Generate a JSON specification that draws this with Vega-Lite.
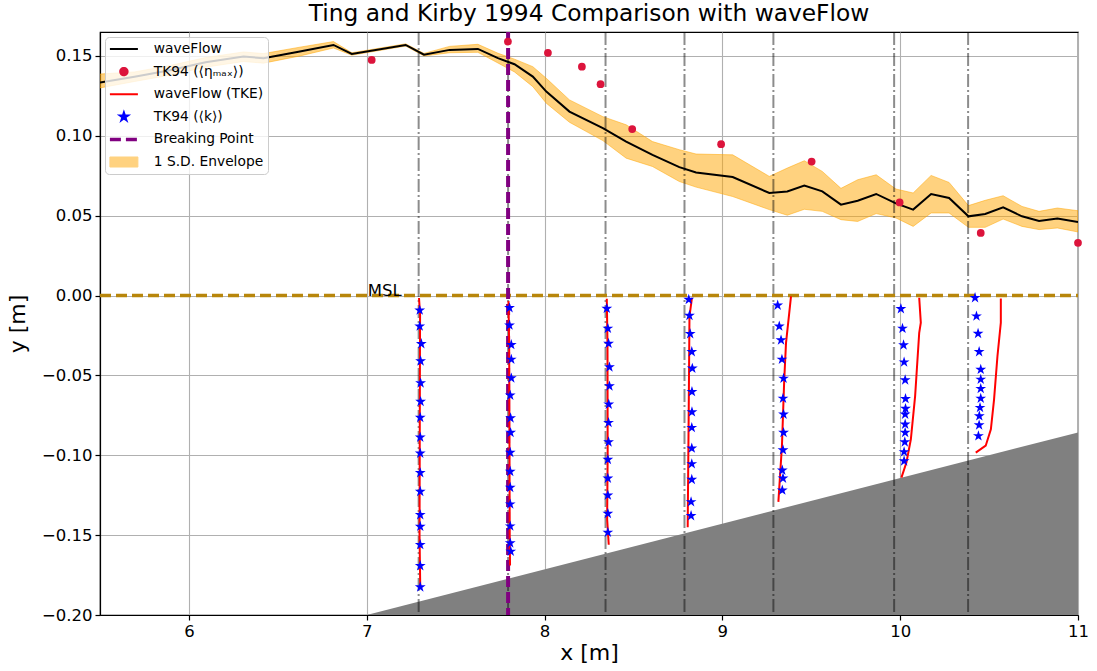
{
  "$schema": "https://vega.github.io/schema/vega-lite/v6.json",
  "autosize": "none",
  "width": 978,
  "height": 583,
  "padding": {"left": 100, "top": 32, "right": 19, "bottom": 56},
  "background": "white",
  "title": {
    "text": "Ting and Kirby 1994 Comparison with waveFlow",
    "fontSize": 23.3,
    "fontWeight": "normal",
    "font": "DejaVu Sans",
    "color": "black",
    "anchor": "middle",
    "offset": 4
  },
  "config": {
    "font": "DejaVu Sans",
    "view": {"stroke": "black", "strokeWidth": 1.2},
    "axis": {
      "domainColor": "black",
      "domainWidth": 1.2,
      "tickColor": "black",
      "tickSize": 5,
      "tickWidth": 1.2,
      "labelColor": "black",
      "labelFont": "DejaVu Sans",
      "labelFontSize": 16.5,
      "labelPadding": 3,
      "labelFlush": false,
      "labelBound": false,
      "titleFont": "DejaVu Sans",
      "titleFontSize": 22,
      "titleFontWeight": "normal",
      "titleColor": "black",
      "grid": true,
      "gridColor": "#b0b0b0",
      "gridWidth": 1.1
    }
  },
  "datasets": {
    "eta": [
      {"x": 5.5, "y": 0.1334, "lo": 0.130, "hi": 0.1387, "series": "waveFlow"},
      {"x": 5.694, "y": 0.137, "lo": 0.134, "hi": 0.140, "series": "waveFlow"},
      {"x": 5.893, "y": 0.141, "lo": 0.138, "hi": 0.144, "series": "waveFlow"},
      {"x": 6.094, "y": 0.146, "lo": 0.143, "hi": 0.149, "series": "waveFlow"},
      {"x": 6.307, "y": 0.1496, "lo": 0.1465, "hi": 0.1525, "series": "waveFlow"},
      {"x": 6.42, "y": 0.1486, "lo": 0.1455, "hi": 0.1515, "series": "waveFlow"},
      {"x": 6.624, "y": 0.1528, "lo": 0.150, "hi": 0.1555, "series": "waveFlow"},
      {"x": 6.813, "y": 0.1569, "lo": 0.155, "hi": 0.159, "series": "waveFlow"},
      {"x": 6.916, "y": 0.1513, "lo": 0.1505, "hi": 0.152, "series": "waveFlow"},
      {"x": 7.219, "y": 0.1569, "lo": 0.1562, "hi": 0.1576, "series": "waveFlow"},
      {"x": 7.322, "y": 0.1508, "lo": 0.150, "hi": 0.1516, "series": "waveFlow"},
      {"x": 7.466, "y": 0.1538, "lo": 0.152, "hi": 0.156, "series": "waveFlow"},
      {"x": 7.625, "y": 0.1544, "lo": 0.1523, "hi": 0.1573, "series": "waveFlow"},
      {"x": 7.738, "y": 0.1486, "lo": 0.1456, "hi": 0.1517, "series": "waveFlow"},
      {"x": 7.831, "y": 0.1448, "lo": 0.140, "hi": 0.148, "series": "waveFlow"},
      {"x": 7.934, "y": 0.1371, "lo": 0.1308, "hi": 0.1433, "series": "waveFlow"},
      {"x": 8.01, "y": 0.1277, "lo": 0.1204, "hi": 0.136, "series": "waveFlow"},
      {"x": 8.14, "y": 0.1152, "lo": 0.1085, "hi": 0.1225, "series": "waveFlow"},
      {"x": 8.328, "y": 0.1048, "lo": 0.097, "hi": 0.112, "series": "waveFlow"},
      {"x": 8.459, "y": 0.0964, "lo": 0.086, "hi": 0.1069, "series": "waveFlow"},
      {"x": 8.607, "y": 0.0881, "lo": 0.0808, "hi": 0.0964, "series": "waveFlow"},
      {"x": 8.758, "y": 0.0804, "lo": 0.0714, "hi": 0.0913, "series": "waveFlow"},
      {"x": 8.852, "y": 0.0771, "lo": 0.0679, "hi": 0.0886, "series": "waveFlow"},
      {"x": 9.058, "y": 0.0742, "lo": 0.062, "hi": 0.0881, "series": "waveFlow"},
      {"x": 9.264, "y": 0.0642, "lo": 0.0538, "hi": 0.0746, "series": "waveFlow"},
      {"x": 9.365, "y": 0.0652, "lo": 0.0503, "hi": 0.0798, "series": "waveFlow"},
      {"x": 9.461, "y": 0.0688, "lo": 0.054, "hi": 0.0844, "series": "waveFlow"},
      {"x": 9.562, "y": 0.0652, "lo": 0.0527, "hi": 0.0777, "series": "waveFlow"},
      {"x": 9.667, "y": 0.0569, "lo": 0.0475, "hi": 0.0671, "series": "waveFlow"},
      {"x": 9.761, "y": 0.0594, "lo": 0.0464, "hi": 0.0725, "series": "waveFlow"},
      {"x": 9.865, "y": 0.0636, "lo": 0.0513, "hi": 0.0756, "series": "waveFlow"},
      {"x": 9.976, "y": 0.0577, "lo": 0.0486, "hi": 0.0667, "series": "waveFlow"},
      {"x": 10.073, "y": 0.0538, "lo": 0.0433, "hi": 0.0642, "series": "waveFlow"},
      {"x": 10.174, "y": 0.0636, "lo": 0.0517, "hi": 0.0752, "series": "waveFlow"},
      {"x": 10.275, "y": 0.0611, "lo": 0.0517, "hi": 0.0708, "series": "waveFlow"},
      {"x": 10.384, "y": 0.0496, "lo": 0.0427, "hi": 0.0563, "series": "waveFlow"},
      {"x": 10.478, "y": 0.0511, "lo": 0.0427, "hi": 0.0596, "series": "waveFlow"},
      {"x": 10.579, "y": 0.0552, "lo": 0.0479, "hi": 0.0625, "series": "waveFlow"},
      {"x": 10.685, "y": 0.0496, "lo": 0.0433, "hi": 0.0558, "series": "waveFlow"},
      {"x": 10.781, "y": 0.0467, "lo": 0.0413, "hi": 0.0527, "series": "waveFlow"},
      {"x": 10.884, "y": 0.0483, "lo": 0.0423, "hi": 0.0548, "series": "waveFlow"},
      {"x": 11.0, "y": 0.0461, "lo": 0.0398, "hi": 0.0531, "series": "waveFlow"}
    ],
    "tk_eta": [
      {"x": 7.028, "y": 0.1475},
      {"x": 7.794, "y": 0.159},
      {"x": 8.019, "y": 0.152},
      {"x": 8.21, "y": 0.1433},
      {"x": 8.315, "y": 0.1323},
      {"x": 8.493, "y": 0.1042},
      {"x": 8.993, "y": 0.0948},
      {"x": 9.502, "y": 0.0839},
      {"x": 9.997, "y": 0.0583},
      {"x": 10.453, "y": 0.0392},
      {"x": 11.0, "y": 0.033}
    ],
    "tke": [
      {"station": "A", "x": 7.294, "y": -0.0015},
      {"station": "A", "x": 7.300, "y": -0.012},
      {"station": "A", "x": 7.299, "y": -0.05},
      {"station": "A", "x": 7.298, "y": -0.10},
      {"station": "A", "x": 7.297, "y": -0.15},
      {"station": "A", "x": 7.301, "y": -0.183},
      {"station": "B", "x": 7.797, "y": -0.0035},
      {"station": "B", "x": 7.801, "y": -0.03},
      {"station": "B", "x": 7.803, "y": -0.10},
      {"station": "B", "x": 7.804, "y": -0.15},
      {"station": "B", "x": 7.806, "y": -0.169},
      {"station": "C", "x": 8.350, "y": -0.002},
      {"station": "C", "x": 8.354, "y": -0.03},
      {"station": "C", "x": 8.355, "y": -0.10},
      {"station": "C", "x": 8.352, "y": -0.14},
      {"station": "C", "x": 8.361, "y": -0.156},
      {"station": "D", "x": 8.829, "y": -0.0015},
      {"station": "D", "x": 8.815, "y": -0.013},
      {"station": "D", "x": 8.811, "y": -0.07},
      {"station": "D", "x": 8.807, "y": -0.12},
      {"station": "D", "x": 8.805, "y": -0.145},
      {"station": "E", "x": 9.386, "y": -0.0005},
      {"station": "E", "x": 9.376, "y": -0.011},
      {"station": "E", "x": 9.358, "y": -0.0296},
      {"station": "E", "x": 9.348, "y": -0.0525},
      {"station": "E", "x": 9.335, "y": -0.0942},
      {"station": "E", "x": 9.315, "y": -0.1292},
      {"station": "F", "x": 10.107, "y": -0.0014},
      {"station": "F", "x": 10.116, "y": -0.017},
      {"station": "F", "x": 10.107, "y": -0.0233},
      {"station": "F", "x": 10.084, "y": -0.063},
      {"station": "F", "x": 10.060, "y": -0.09},
      {"station": "F", "x": 10.035, "y": -0.1046},
      {"station": "F", "x": 10.007, "y": -0.114},
      {"station": "G", "x": 10.566, "y": -0.0019},
      {"station": "G", "x": 10.566, "y": -0.017},
      {"station": "G", "x": 10.547, "y": -0.038},
      {"station": "G", "x": 10.528, "y": -0.065},
      {"station": "G", "x": 10.510, "y": -0.0838},
      {"station": "G", "x": 10.481, "y": -0.094},
      {"station": "G", "x": 10.425, "y": -0.0983}
    ],
    "tk_k": [
      {"x": 7.298, "y": -0.0092}, {"x": 7.298, "y": -0.0192}, {"x": 7.307, "y": -0.0302},
      {"x": 7.303, "y": -0.041}, {"x": 7.303, "y": -0.0548}, {"x": 7.303, "y": -0.0664},
      {"x": 7.301, "y": -0.0764}, {"x": 7.301, "y": -0.0888}, {"x": 7.301, "y": -0.0988},
      {"x": 7.301, "y": -0.111}, {"x": 7.301, "y": -0.1227}, {"x": 7.301, "y": -0.1373},
      {"x": 7.301, "y": -0.1446}, {"x": 7.301, "y": -0.156}, {"x": 7.301, "y": -0.1692},
      {"x": 7.301, "y": -0.1825},
      {"x": 7.803, "y": -0.0077}, {"x": 7.803, "y": -0.0186}, {"x": 7.813, "y": -0.0308},
      {"x": 7.813, "y": -0.04}, {"x": 7.813, "y": -0.0517}, {"x": 7.807, "y": -0.0625},
      {"x": 7.809, "y": -0.0767}, {"x": 7.809, "y": -0.0858}, {"x": 7.807, "y": -0.0983},
      {"x": 7.807, "y": -0.1102}, {"x": 7.807, "y": -0.1202}, {"x": 7.807, "y": -0.1306},
      {"x": 7.807, "y": -0.1444}, {"x": 7.807, "y": -0.155}, {"x": 7.810, "y": -0.1602},
      {"x": 8.350, "y": -0.0081}, {"x": 8.356, "y": -0.0206}, {"x": 8.360, "y": -0.03},
      {"x": 8.365, "y": -0.0448}, {"x": 8.365, "y": -0.0567}, {"x": 8.361, "y": -0.0681},
      {"x": 8.360, "y": -0.0796}, {"x": 8.360, "y": -0.0917}, {"x": 8.356, "y": -0.1027},
      {"x": 8.356, "y": -0.1144}, {"x": 8.356, "y": -0.125}, {"x": 8.356, "y": -0.1365},
      {"x": 8.356, "y": -0.1483},
      {"x": 8.811, "y": -0.0025}, {"x": 8.815, "y": -0.0125}, {"x": 8.819, "y": -0.024},
      {"x": 8.828, "y": -0.0352}, {"x": 8.831, "y": -0.0456}, {"x": 8.829, "y": -0.0602},
      {"x": 8.829, "y": -0.0729}, {"x": 8.828, "y": -0.0827}, {"x": 8.828, "y": -0.0956},
      {"x": 8.828, "y": -0.1054}, {"x": 8.828, "y": -0.1152}, {"x": 8.824, "y": -0.1292},
      {"x": 8.824, "y": -0.1379},
      {"x": 9.311, "y": -0.0061}, {"x": 9.320, "y": -0.0192}, {"x": 9.330, "y": -0.0279},
      {"x": 9.335, "y": -0.04}, {"x": 9.344, "y": -0.0519}, {"x": 9.341, "y": -0.0644},
      {"x": 9.344, "y": -0.0744}, {"x": 9.344, "y": -0.0858}, {"x": 9.341, "y": -0.0967},
      {"x": 9.337, "y": -0.1094}, {"x": 9.341, "y": -0.1144}, {"x": 9.337, "y": -0.1219},
      {"x": 10.004, "y": -0.0083}, {"x": 10.013, "y": -0.0206}, {"x": 10.019, "y": -0.031},
      {"x": 10.022, "y": -0.0417}, {"x": 10.028, "y": -0.0529}, {"x": 10.030, "y": -0.0646},
      {"x": 10.030, "y": -0.0708}, {"x": 10.028, "y": -0.0744}, {"x": 10.028, "y": -0.0806},
      {"x": 10.028, "y": -0.0858}, {"x": 10.026, "y": -0.0917}, {"x": 10.022, "y": -0.0979},
      {"x": 10.022, "y": -0.1036},
      {"x": 10.421, "y": -0.0014}, {"x": 10.429, "y": -0.0129}, {"x": 10.438, "y": -0.0238},
      {"x": 10.444, "y": -0.0352}, {"x": 10.453, "y": -0.0463}, {"x": 10.453, "y": -0.0525},
      {"x": 10.453, "y": -0.0583}, {"x": 10.453, "y": -0.0644}, {"x": 10.449, "y": -0.0702},
      {"x": 10.445, "y": -0.0754}, {"x": 10.444, "y": -0.0811}, {"x": 10.440, "y": -0.0879}
    ],
    "stations": [
      {"x": 7.292}, {"x": 7.795}, {"x": 8.343}, {"x": 8.787},
      {"x": 9.287}, {"x": 9.966}, {"x": 10.382}
    ],
    "breaking": [{"x": 7.795}],
    "bed": [
      {"x": 7.0, "y": -0.2},
      {"x": 11.0, "y": -0.0857}
    ],
    "msl": [{"x": 5.5, "x2": 11.0, "y": 0.0}],
    "msl_label": [{"x": 7.0, "y": 0.0, "label": "MSL"}]
  },
  "encoding": {
    "x": {
      "field": "x",
      "type": "quantitative",
      "title": "x [m]",
      "scale": {"domain": [5.5, 11], "nice": false, "zero": false},
      "axis": {"values": [6, 7, 8, 9, 10, 11], "format": "d", "titlePadding": 3}
    }
  },
  "layer": [
    {
      "data": {"name": "bed"},
      "mark": {"type": "area", "color": "#808080", "opacity": 1, "clip": true},
      "encoding": {
        "y": {
          "field": "y",
          "type": "quantitative",
          "title": "y [m]",
          "scale": {"domain": [-0.2, 0.165], "nice": false, "zero": false},
          "axis": {
            "values": [-0.2, -0.15, -0.1, -0.05, 0, 0.05, 0.1, 0.15],
            "format": ".2f",
            "titlePadding": 12
          }
        },
        "y2": {"datum": -0.2}
      }
    },
    {
      "data": {"name": "eta"},
      "mark": {"type": "area", "fill": "#FFA500", "fillOpacity": 0.5, "stroke": "#FFA500", "strokeOpacity": 0.5, "strokeWidth": 1, "clip": true},
      "encoding": {
        "y": {"field": "lo", "type": "quantitative", "title": "y [m]", "scale": {"domain": [-0.2, 0.165], "nice": false, "zero": false}},
        "y2": {"field": "hi"}
      }
    },
    {
      "data": {"name": "stations"},
      "mark": {"type": "rule", "color": "black", "opacity": 0.45, "strokeWidth": 2, "strokeDash": [13, 3, 2, 3]}
    },
    {
      "data": {"name": "msl"},
      "mark": {"type": "rule", "color": "#B8860B", "strokeWidth": 3.5, "strokeDash": [11, 5]},
      "encoding": {
        "x2": {"field": "x2"},
        "y": {"field": "y", "type": "quantitative", "title": "y [m]", "scale": {"domain": [-0.2, 0.165], "nice": false, "zero": false}}
      }
    },
    {
      "data": {"name": "breaking"},
      "mark": {"type": "rule", "color": "#800080", "strokeWidth": 4, "strokeDash": [11, 5]}
    },
    {
      "data": {"name": "eta"},
      "mark": {"type": "line", "strokeWidth": 2, "clip": true},
      "encoding": {
        "y": {"field": "y", "type": "quantitative", "title": "y [m]", "scale": {"domain": [-0.2, 0.165], "nice": false, "zero": false}},
        "color": {
          "field": "series",
          "type": "nominal",
          "scale": {
            "domain": ["waveFlow", "TK94 (⟨ηₘₐₓ⟩)", "waveFlow (TKE)", "TK94 (⟨k⟩)", "Breaking Point", "1 S.D. Envelope"],
            "range": ["#000000", "#DC143C", "#FF0000", "#0000FF", "#800080", "#FFD280"]
          },
          "legend": {
            "title": null,
            "orient": "top-left",
            "offset": 5,
            "padding": 4,
            "clipHeight": 16,
            "rowPadding": 6.6,
            "symbolSize": 784,
            "symbolOffset": 8,
            "labelOffset": 23,
            "labelFont": "DejaVu Sans",
            "labelFontSize": 13.8,
            "labelColor": "black",
            "labelLimit": 300,
            "fillColor": "rgba(255,255,255,0.8)",
            "strokeColor": "#cccccc",
            "cornerRadius": 4,
            "encode": {
              "symbols": {
                "update": {
                  "shape": {"signal": "datum.value === 'TK94 (⟨k⟩)' ? 'M0,-1L0.2245,-0.309L0.9511,-0.309L0.3633,0.118L0.5878,0.809L0,0.382L-0.5878,0.809L-0.3633,0.118L-0.9511,-0.309L-0.2245,-0.309Z' : datum.value === 'TK94 (⟨ηₘₐₓ⟩)' ? 'circle' : datum.value === '1 S.D. Envelope' ? 'M-1,-0.36L1,-0.36L1,0.36L-1,0.36Z' : 'stroke'"},
                  "size": {"signal": "datum.value === 'TK94 (⟨k⟩)' ? 75 : datum.value === 'TK94 (⟨ηₘₐₓ⟩)' ? 55 : 784"},
                  "fill": {"signal": "(datum.value === 'TK94 (⟨k⟩)' || datum.value === 'TK94 (⟨ηₘₐₓ⟩)' || datum.value === '1 S.D. Envelope') ? scale('color', datum.value) : 'transparent'"},
                  "stroke": {"signal": "(datum.value === 'TK94 (⟨k⟩)' || datum.value === 'TK94 (⟨ηₘₐₓ⟩)') ? 'transparent' : datum.value === '1 S.D. Envelope' ? '#FFC04D' : scale('color', datum.value)"},
                  "strokeWidth": {"signal": "datum.value === 'Breaking Point' ? 3.5 : datum.value === '1 S.D. Envelope' ? 1 : 2"},
                  "strokeDash": {"signal": "datum.value === 'Breaking Point' ? [11, 5] : [1, 0]"},
                  "opacity": {"value": 1}
                }
              }
            }
          }
        }
      }
    },
    {
      "data": {"name": "tke"},
      "mark": {"type": "line", "color": "#FF0000", "strokeWidth": 2},
      "encoding": {
        "y": {"field": "y", "type": "quantitative", "title": "y [m]", "scale": {"domain": [-0.2, 0.165], "nice": false, "zero": false}},
        "detail": {"field": "station", "type": "nominal"},
        "order": {"field": "y", "sort": "descending"}
      }
    },
    {
      "data": {"name": "tk_eta"},
      "mark": {"type": "point", "shape": "circle", "filled": true, "color": "#DC143C", "size": 60, "opacity": 1},
      "encoding": {
        "y": {"field": "y", "type": "quantitative", "title": "y [m]", "scale": {"domain": [-0.2, 0.165], "nice": false, "zero": false}}
      }
    },
    {
      "data": {"name": "tk_k"},
      "mark": {"type": "point", "shape": "M0,-1L0.2245,-0.309L0.9511,-0.309L0.3633,0.118L0.5878,0.809L0,0.382L-0.5878,0.809L-0.3633,0.118L-0.9511,-0.309L-0.2245,-0.309Z", "filled": true, "color": "#0000FF", "size": 130, "opacity": 1},
      "encoding": {
        "y": {"field": "y", "type": "quantitative", "title": "y [m]", "scale": {"domain": [-0.2, 0.165], "nice": false, "zero": false}}
      }
    },
    {
      "data": {"name": "msl_label"},
      "mark": {"type": "text", "align": "left", "baseline": "alphabetic", "fontSize": 16.5, "font": "DejaVu Sans", "color": "black", "dx": 1},
      "encoding": {
        "y": {"field": "y", "type": "quantitative", "title": "y [m]", "scale": {"domain": [-0.2, 0.165], "nice": false, "zero": false}},
        "text": {"field": "label"}
      }
    }
  ]
}
